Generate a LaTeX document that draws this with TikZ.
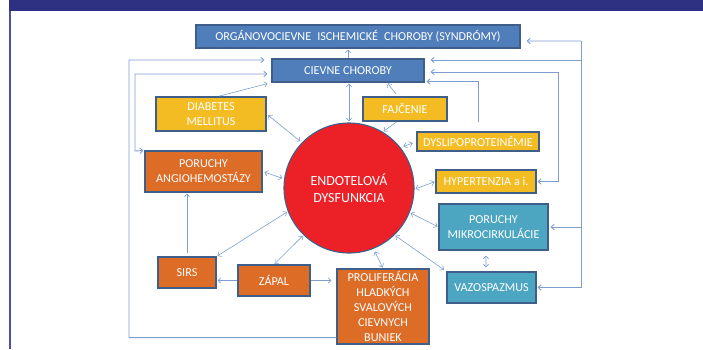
\documentclass[tikz,border=0pt]{standalone}
\usepackage{fontspec}
\setmainfont{Carlito}
\usetikzlibrary{arrows.meta,calc}
\definecolor{barc}{HTML}{2E3182}
\definecolor{leftc}{HTML}{4C50A8}
\definecolor{bordc}{HTML}{3F5F8A}
\definecolor{boxblue}{HTML}{4F7EBA}
\definecolor{boxyel}{HTML}{F4BC23}
\definecolor{boxora}{HTML}{DD6C27}
\definecolor{boxteal}{HTML}{4CA6C2}
\definecolor{redc}{HTML}{EC2127}
\definecolor{linec}{HTML}{7D9ECF}
\begin{document}
\begin{tikzpicture}[x=1bp,y=-1bp,
  box/.style={draw=bordc, line width=1.1bp, text=white, align=center, inner sep=0pt,
    font=\fontsize{12.2}{15}\selectfont},
  bluebox/.style={box, fill=boxblue},
  yelbox/.style={box, fill=boxyel},
  orabox/.style={box, fill=boxora},
  tealbox/.style={box, fill=boxteal},
  conn/.style={draw=linec, line width=0.6bp},
  loop/.style={draw=linec, line width=0.9bp},
  tip/.tip={Straight Barb[length=3bp,width=5.5bp]},
  arr/.style={conn, -tip},
  darr/.style={conn, tip-tip},
]
\useasboundingbox (0,0) rectangle (703,349);
% frame
\fill[barc] (9,0) rectangle (703,11);
\fill[leftc] (8.5,11) rectangle (10.5,349);

% nodes
\node[bluebox, minimum width=324bp, minimum height=23bp] (org) at (358,36.5)
  {ORGÁNOVOCIEVNE\hspace{0.5em}ISCHEMICKÉ\hspace{0.5em}CHOROBY (SYNDRÓMY)};
\node[bluebox, minimum width=152bp, minimum height=23bp] (cie) at (348,70.5) {CIEVNE CHOROBY};
\node[yelbox, minimum width=110bp, minimum height=34bp] (dia) at (211,114) {DIABETES\\MELLITUS};
\node[yelbox, minimum width=84bp, minimum height=24bp] (faj) at (405,109) {FAJČENIE};
\node[yelbox, minimum width=122bp, minimum height=19bp] (dys) at (478,141.5) {DYSLIPOPROTEINÉMIE};
\node[yelbox, minimum width=100bp, minimum height=23bp] (hyp) at (486,181.5) {HYPERTENZIA a i.};
\node[orabox, minimum width=117bp, minimum height=41bp] (ang) at (203.5,171.5) {PORUCHY\\ANGIOHEMOSTÁZY};
\node[circle, draw=bordc, fill=redc, line width=1.1bp, minimum size=130bp, inner sep=0pt,
  text=white, align=center, font=\fontsize{14}{17}\selectfont] (circ) at (349,188) {ENDOTELOVÁ\\DYSFUNKCIA};
\node[tealbox, minimum width=109bp, minimum height=46bp] (mik) at (493.5,227) {PORUCHY\\MIKROCIRKULÁCIE};
\node[tealbox, minimum width=89bp, minimum height=31bp] (vaz) at (491.5,287.5) {VAZOSPAZMUS};
\node[orabox, minimum width=58bp, minimum height=31bp] (sirs) at (187,272.5) {SIRS};
\node[orabox, minimum width=72bp, minimum height=31bp] (zap) at (274,280.5) {ZÁPAL};
\node[orabox, minimum width=92bp, minimum height=75bp] (pro) at (383,306.5)
  {PROLIFERÁCIA\\HLADKÝCH\\SVALOVÝCH\\CIEVNYCH\\BUNIEK};

% coordinates for bus lines
\coordinate (cieL1) at ([yshift=10.5bp]cie.west);
\coordinate (cieL2) at ([yshift=-3.5bp]cie.west);
\coordinate (cieR1) at ([yshift=10.5bp]cie.east);
\coordinate (cieR2) at ([yshift=-1.5bp]cie.east);
\coordinate (cieR3) at ([yshift=-11bp]cie.east);
\coordinate (orgR) at ([yshift=-4.5bp]org.east);
\coordinate (rb1) at (581,41);
\coordinate (rb2) at (581,287.5);

% vertical central connectors
\draw[arr, shorten >=1bp] (cie.north) -- (cie.north |- org.south);
\draw[darr, shorten <=1bp, shorten >=1bp] (circ.north) -- (circ.north |- cie.south);

% yellow factors
\draw[arr, shorten <=1bp, shorten >=4bp] ([xshift=7bp]dia.north) -- (cie.south west);
\draw[arr, shorten <=3bp, shorten >=1bp] ([xshift=-7bp]faj.north) -- ([xshift=39bp]cie.south);
\draw[arr, shorten <=1bp, shorten >=1bp] ([xshift=-8bp]faj.south) -- (circ.59);
\draw[darr, shorten <=2bp, shorten >=2bp] (dia.east) -- (circ.136);
\draw[darr, shorten <=2bp, shorten >=2bp] (ang.east) -- (circ.172);
\draw[darr, shorten <=3bp, shorten >=4bp] (circ.38) -- (dys.west);
\draw[darr, shorten <=1bp, shorten >=1bp] (circ.-1) -- (hyp.west);

% teal
\draw[darr, shorten <=1bp, shorten >=1bp] (circ.-22) -- (mik.west);
\draw[darr, shorten <=1bp, shorten >=3bp] (circ.-46) -- (vaz.north west);
\draw[darr, shorten <=5bp, shorten >=4bp] ([xshift=-7.5bp]mik.south) -- ([xshift=-5.5bp]vaz.north);

% orange bottom
\draw[arr, shorten <=3bp, shorten >=1bp] (sirs.north) -- (sirs.north |- ang.south);
\draw[darr, shorten <=1bp, shorten >=1bp] (sirs.north east) -- (circ.201.5);
\draw[darr, shorten <=1bp, shorten >=1bp] (zap.north) -- (circ.226);
\draw[arr, shorten >=1bp] (zap.west) -- (zap.west -| sirs.east);
\draw[arr, shorten >=5bp] (zap.east) -- (zap.east -| pro.west);
\draw[darr, shorten <=3bp, shorten >=1bp] (circ.-68) -- (pro.north);

% left loops
\draw[loop, -tip, shorten >=7bp] ([yshift=7bp]pro.south west) -| (129,60) -- (cieL1);
\draw[loop, tip-tip, shorten <=4bp, shorten >=1bp] (cieL2) -| (135,151) -- (ang.north west);

% right loops
\draw[loop] (rb1) -- (rb2);
\draw[loop, -tip, shorten >=6bp] (rb1) -- (orgR);
\draw[loop, -tip, shorten >=6bp] (cieR1 -| rb1) -- (cieR1);
\draw[loop, -tip, shorten >=2bp] (mik.east -| rb1) -- (mik.east);
\draw[loop, -tip, shorten >=1bp] (rb2) -- (vaz.east);
\draw[loop, tip-tip, shorten <=6bp, shorten >=1bp] (cieR2) -| (558,181.5) -- (hyp.east);
\draw[loop, -tip, shorten <=9bp, shorten >=2bp] (dys.north) |- (cieR3);
\end{tikzpicture}
\end{document}
